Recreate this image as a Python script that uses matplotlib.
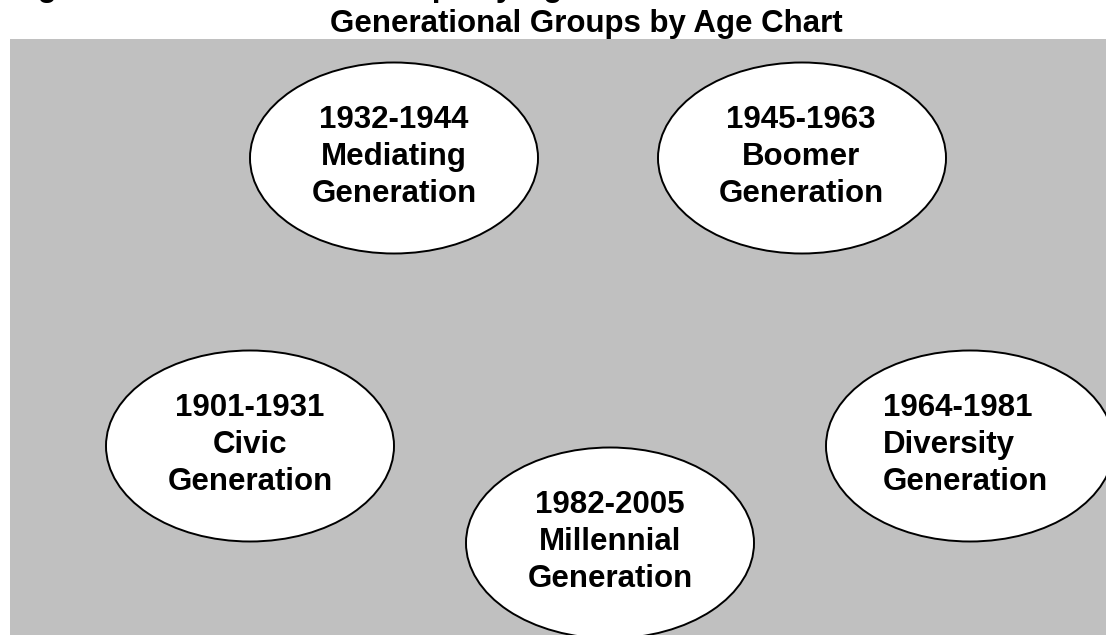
import matplotlib.pyplot as plt
from matplotlib.patches import Ellipse, Rectangle

# generations shown in the bubbles
periods = ['1932-1944', '1945-1963', '1901-1931', '1964-1981', '1982-2005']
names = ['Mediating', 'Boomer', 'Civic', 'Diversity', 'Millennial']
title = 'Generational Groups by Age Chart'
caption = 'Figure 1.  Generational Groups by Age'

# layout in pixel coordinates (x, y of bubble centre)
centres = [(394, 158), (802, 158), (250, 446), (970, 446), (610, 543)]
text_x = [394, 801, 250, 883, 610]
text_align = ['center', 'center', 'center', 'left', 'center']
ew, eh = 288, 191

plt.rcParams['font.family'] = ['Liberation Sans', 'DejaVu Sans']

fig = plt.figure(figsize=(11.06, 6.35), dpi=100)
ax = fig.add_axes([0, 0, 1, 1])
ax.set_xlim(0, 1106)
ax.set_ylim(635, 0)
ax.axis('off')

# grey backdrop
ax.add_patch(Rectangle((10, 39), 1110, 610, facecolor='#c0c0c0', edgecolor='none', zorder=0))

# caption line cut off at the top of the picture
ax.text(10, -4, caption, fontsize=22.5, fontweight='bold', va='baseline', ha='left', clip_on=False)
ax.text(586, 32, title, fontsize=22.5, fontweight='bold', va='baseline', ha='center')

for i in range(len(names)):
    cx, cy = centres[i]
    ax.add_patch(Ellipse((cx, cy), ew, eh, facecolor='white', edgecolor='black', lw=1.4, zorder=2))
    lines = [periods[i], names[i], 'Generation']
    for k, line in enumerate(lines):
        ax.text(text_x[i], cy + 7 + (k - 1) * 37, line, fontsize=22.5, fontweight='bold',
                ha=text_align[i], va='baseline', zorder=3)

fig.savefig('out.png', dpi=100)
